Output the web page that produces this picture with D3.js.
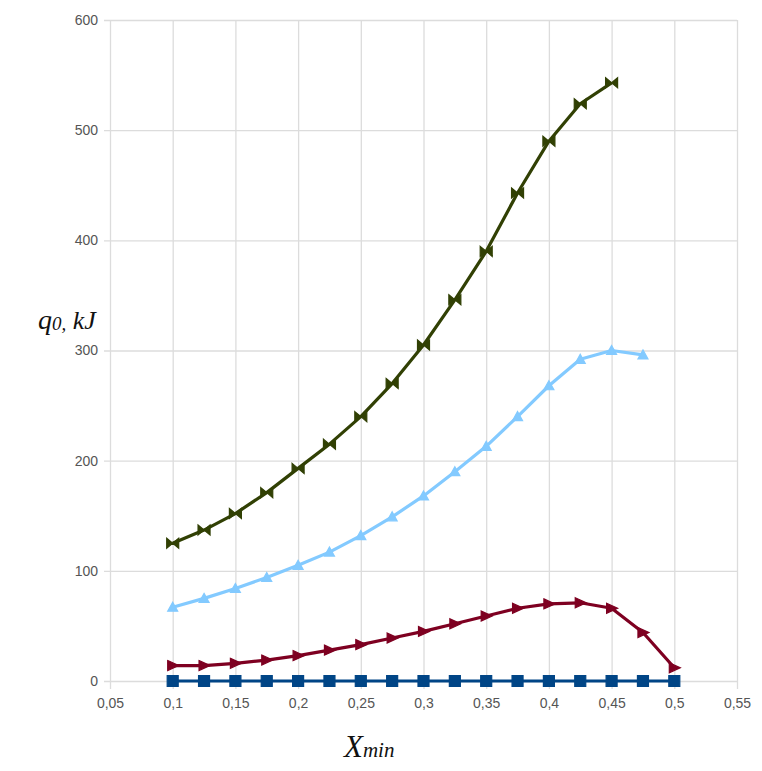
<!DOCTYPE html>
<html>
<head>
<meta charset="utf-8">
<script src="https://cdn.jsdelivr.net/npm/d3@7"></script>
<style>
  body { margin: 0; background: #fff; }
  svg { display: block; }
</style>
</head>
<body>
<div id="chart"></div>
<script>
const layout = {
    width: 762,
    height: 771,
    marginTop: 20,
    marginLeft: 110,
    chartWidth: 627,
    chartHeight: 661
};

// x values shared by all series
const xValues = [0.1, 0.125, 0.15, 0.175, 0.2, 0.225, 0.25, 0.275, 0.3, 0.325, 0.35, 0.375, 0.4, 0.425, 0.45, 0.475, 0.5];

// series values
const blueSquares = [0, 0, 0, 0, 0, 0, 0, 0, 0, 0, 0, 0, 0, 0, 0, 0, 0];
const redArrows = [14, 14, 16, 19, 23, 28, 33, 39, 45, 52, 59, 66, 70, 71, 66, 44, 12];
const lightBlueArrows = [67, 75, 84, 94, 105, 117, 132, 149, 168, 190, 213, 240, 268, 292, 300, 296];
const oliveBowties = [125, 137, 152, 171, 193, 215, 240, 270, 305, 346, 390, 443, 490, 524, 543];

const xTicks = [0.05, 0.1, 0.15, 0.2, 0.25, 0.3, 0.35, 0.4, 0.45, 0.5, 0.55];
const yTicks = [0, 100, 200, 300, 400, 500, 600];

const series = [
    { name: "s1", values: blueSquares, color: "#004586", marker: "square" },
    { name: "s5", values: redArrows, color: "#7e0021", marker: "right" },
    { name: "s6", values: lightBlueArrows, color: "#83caff", marker: "up" },
    { name: "s7", values: oliveBowties, color: "#314004", marker: "bowtie" }
];

let svg = d3.select("#chart").append("svg")
    .attr("width", layout.width)
    .attr("height", layout.height)
    .attr("viewBox", [0, 0, layout.width, layout.height].join(" "));

let xScale = d3.scaleLinear()
    .domain([0.05, 0.55])
    .range([0, layout.chartWidth]);
let yScale = d3.scaleLinear()
    .domain([0, 600])
    .range([layout.chartHeight, 0]);

let plot = svg.append("g")
    .attr("transform", `translate(${layout.marginLeft},${layout.marginTop})`);

// grid lines, drawn through the axes with long ticks
let fmt = d => d3.format(".2~f")(d).replace(".", ",");

let xAxis = plot.append("g")
    .attr("transform", `translate(0,${layout.chartHeight})`)
    .call(d3.axisBottom(xScale)
        .tickValues(xTicks)
        .tickSize(-layout.chartHeight)
        .tickPadding(17)
        .tickFormat(fmt));
xAxis.select(".domain").remove();
xAxis.selectAll("line").attr("stroke", "#dcdcdc").attr("stroke-width", 1.3)
    .attr("y1", 8);
xAxis.selectAll("text")
    .attr("fill", "#555")
    .attr("font-family", "Liberation Sans, Arial, sans-serif")
    .attr("font-size", 14);

let yAxis = plot.append("g")
    .call(d3.axisLeft(yScale)
        .tickValues(yTicks)
        .tickSize(-layout.chartWidth)
        .tickPadding(12));
yAxis.select(".domain").remove();
yAxis.selectAll("line").attr("stroke", "#dcdcdc").attr("stroke-width", 1.3)
    .attr("x1", -6);
yAxis.selectAll("text")
    .attr("fill", "#555")
    .attr("font-family", "Liberation Sans, Arial, sans-serif")
    .attr("font-size", 14);

// marker shapes
function markerPath(type) {
    if (type === "square") return "M-5.5,-5.5H5.5V5.5H-5.5Z";
    if (type === "right") return "M-5,-5L6,0L-5,5Z";
    if (type === "up") return "M0,-5L5,4L-5,4Z";
    return "M-6,-5L0,0L-6,5Z M6,-5L0,0L6,5Z";
}

function drawSeries(s) {
    let points = s.values.map((v, i) => ({ x: xValues[i], y: v }));
    plot.append("path")
        .datum(points)
        .attr("fill", "none")
        .attr("stroke", s.color)
        .attr("stroke-width", 3.2)
        .attr("stroke-linejoin", "round")
        .attr("d", d3.line()
            .x(d => xScale(d.x))
            .y(d => yScale(d.y)));

    plot.append("g")
        .selectAll("path")
        .data(points)
        .join("path")
        .attr("transform", d => `translate(${xScale(d.x)},${yScale(d.y)})`)
        .attr("d", markerPath(s.marker))
        .attr("fill", s.color)
        .attr("stroke", s.color)
        .attr("stroke-width", 1.2);
}

for (var i = 0; i < series.length; i++) {
    drawSeries(series[i]);
}

// axis titles
let yTitle = svg.append("text")
    .attr("x", 38)
    .attr("y", 329)
    .attr("font-family", "Liberation Serif, Times New Roman, serif")
    .attr("font-style", "italic")
    .attr("fill", "#111");
yTitle.append("tspan").attr("font-size", 28).text("q");
yTitle.append("tspan").attr("font-size", 19).attr("dy", 1).text("0,");
yTitle.append("tspan").attr("font-size", 26).attr("dy", -1).text(" kJ");

let xTitle = svg.append("text")
    .attr("x", 344)
    .attr("y", 757)
    .attr("font-family", "Liberation Serif, Times New Roman, serif")
    .attr("font-style", "italic")
    .attr("fill", "#111");
xTitle.append("tspan").attr("font-size", 31).text("X");
xTitle.append("tspan").attr("font-size", 21).text("min");
</script>
</body>
</html>
